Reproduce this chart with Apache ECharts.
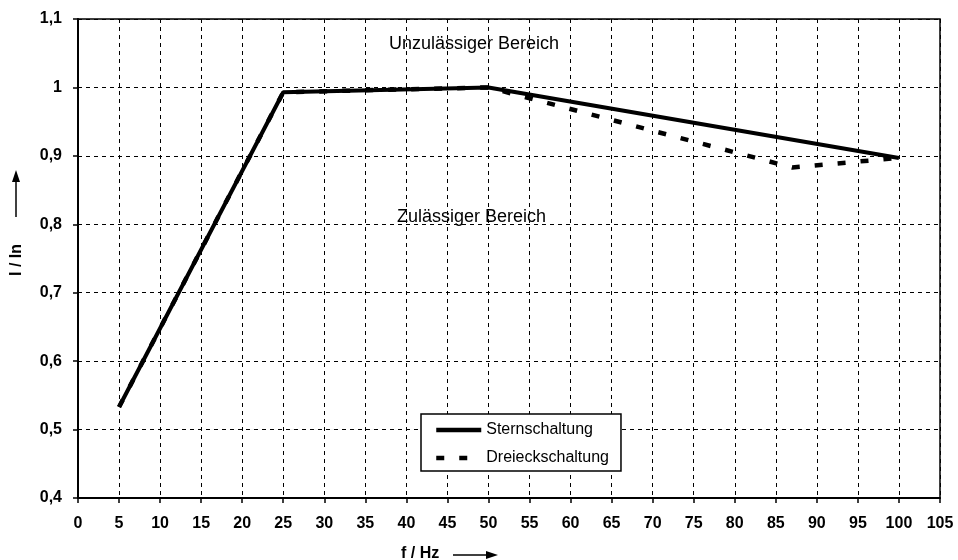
<!DOCTYPE html>
<html><head><meta charset="utf-8">
<script src="https://cdn.jsdelivr.net/npm/echarts@6/dist/echarts.min.js"></script>
<style>html,body{margin:0;padding:0;background:#fff}#c{width:958px;height:560px}</style>
</head><body><div id="c"></div>
<script>
var sternX = [5, 25, 50, 100];
var sternY = [0.533, 0.993, 1.0, 0.897];
var dreieckX = [5, 25, 50, 87, 100];
var dreieckY = [0.533, 0.993, 1.0, 0.883, 0.897];
var xTicks = [0,5,10,15,20,25,30,35,40,45,50,55,60,65,70,75,80,85,90,95,100,105];
var yTicks = [0.4,0.5,0.6,0.7,0.8,0.9,1.0,1.1];
var seriesNames = ['Sternschaltung', 'Dreieckschaltung'];

function pairs(xs, ys){ return xs.map(function(x,i){return [x, ys[i]];}); }
var chart = echarts.init(document.getElementById('c'), null, {renderer:'canvas'});
var font = 'Liberation Sans, Arial, sans-serif';
chart.setOption({
  animation:false,
  backgroundColor:'#fff',
  grid:{left:78, right:18, top:19, bottom:62, show:true, borderColor:'#000', borderWidth:1.5, backgroundColor:'transparent'},
  xAxis:{type:'value', min:0, max:105, interval:5,
    axisLine:{show:true, onZero:false, lineStyle:{color:'#000', width:2}},
    axisTick:{show:true, length:5, lineStyle:{color:'#000', width:1.5}},
    axisLabel:{color:'#000', fontFamily:font, fontWeight:'bold', fontSize:16, margin:18},
    splitLine:{show:true, lineStyle:{color:'#000', width:1, type:[4,4]}}
  },
  yAxis:{type:'value', min:0.4, max:1.1, interval:0.1,
    axisLine:{show:true, onZero:false, lineStyle:{color:'#000', width:2}},
    axisTick:{show:true, length:5, lineStyle:{color:'#000', width:1.5}},
    axisLabel:{color:'#000', fontFamily:font, fontWeight:'bold', fontSize:16, margin:16,
      formatter:function(v){ return (Math.round(v*10)/10).toString().replace('.', ','); }},
    splitLine:{show:true, lineStyle:{color:'#000', width:1, type:[4,4]}}
  },
  legend:{show:true, left:421, top:414, orient:'vertical', itemGap:10,
    padding:[7,12,4,13], borderColor:'#000', borderWidth:1.5, backgroundColor:'#fff',
    itemWidth:45, itemHeight:14,
    itemStyle:{opacity:0},
    lineStyle:{width:4.5},
    textStyle:{color:'#000', fontFamily:font, fontSize:16, lineHeight:18, fontWeight:'normal'},
    data:seriesNames
  },
  graphic:[
    {type:'text', left:389, top:35, style:{text:'Unzulässiger Bereich', font:'18px '+font, fill:'#000'}},
    {type:'text', left:397, top:208, style:{text:'Zulässiger Bereich', font:'18px '+font, fill:'#000'}},
    {type:'text', x:9, y:276, rotation:Math.PI/2, style:{text:'I / In', font:'bold 16px '+font, fill:'#000', verticalAlign:'top'}},
    {type:'line', shape:{x1:16, y1:217, x2:16, y2:180}, style:{stroke:'#000', lineWidth:1.5}},
    {type:'polygon', shape:{points:[[12,182],[20,182],[16,170]]}, style:{fill:'#000'}},
    {type:'text', left:401, top:546, style:{text:'f / Hz', font:'bold 16px '+font, fill:'#000'}},
    {type:'line', shape:{x1:453, y1:555, x2:488, y2:555}, style:{stroke:'#000', lineWidth:1.5}},
    {type:'polygon', shape:{points:[[486,551],[486,559],[498,555]]}, style:{fill:'#000'}}
  ],
  series:[
    {name:seriesNames[1], type:'line', data:pairs(dreieckX, dreieckY), showSymbol:false, symbol:'none', z:2,
      lineStyle:{color:'#000', width:4.5, type:[8,15]}, itemStyle:{color:'#000'}},
    {name:seriesNames[0], type:'line', data:pairs(sternX, sternY), showSymbol:false, symbol:'none', z:3,
      lineStyle:{color:'#000', width:4, type:'solid'}, itemStyle:{color:'#000'}}
  ]
});
</script></body></html>
